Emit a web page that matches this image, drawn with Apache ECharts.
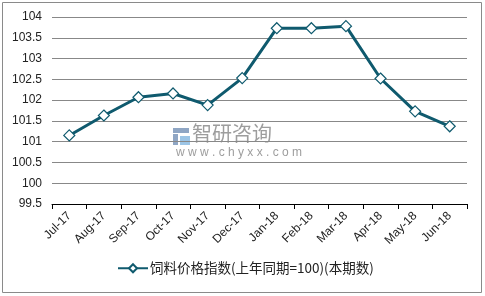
<!DOCTYPE html>
<html>
<head>
<meta charset="utf-8">
<script src="https://cdn.jsdelivr.net/npm/echarts@6/dist/echarts.min.js"></script>
<style>
  html, body { margin: 0; padding: 0; background: #fff; }
  #chart { width: 485px; height: 296px; }
</style>
</head>
<body>
<div id="chart"></div>
<script>
const months = ["Jul-17", "Aug-17", "Sep-17", "Oct-17", "Nov-17", "Dec-17",
  "Jan-18", "Feb-18", "Mar-18", "Apr-18", "May-18", "Jun-18"];
const feedIndex = [101.15, 101.63, 102.07, 102.16, 101.88, 102.53,
  103.73, 103.73, 103.78, 102.52, 101.73, 101.37];
const seriesName = "饲料价格指数(上年同期=100)(本期数)";

const chart = echarts.init(document.getElementById("chart"));

const option = {
  animation: false,
  textStyle: { fontFamily: "Liberation Sans, Arial, sans-serif" },
  grid: { left: 52, right: 18, top: 17, bottom: 92 },
  legend: {
    bottom: 16,
    left: 112,
    itemWidth: 30,
    itemHeight: 10,
    itemGap: 2,
    textStyle: { fontSize: 13.5, color: "#222", fontFamily: "Noto Sans CJK SC, sans-serif", padding: [0, 0, 0, -3] },
    data: [seriesName],
  },
  xAxis: {
    type: "category",
    data: months,
    boundaryGap: true,
    axisLine: { lineStyle: { color: "#000", width: 1 } },
    axisTick: { show: true, alignWithLabel: false, lineStyle: { color: "#000" } },
    axisLabel: { rotate: 45, fontSize: 12, color: "#222", interval: 0, margin: 10 },
  },
  yAxis: {
    type: "value",
    min: 99.5,
    max: 104,
    interval: 0.5,
    axisLine: { show: false },
    axisTick: { show: false },
    axisLabel: { fontSize: 12, color: "#222", margin: 10 },
    splitLine: { lineStyle: { color: "#888", width: 1 } },
  },
  graphic: [
    {
      type: "rect",
      shape: { x: 2.5, y: 2.5, width: 479, height: 290 },
      style: { fill: "none", stroke: "#8a8a8a", lineWidth: 1 },
      silent: true,
    },
    {
      type: "text",
      left: 192,
      top: 123,
      style: { text: "智研咨询", fontSize: 20, fill: "#8c8c8c", fontFamily: "Noto Sans CJK SC, sans-serif", opacity: 0.85 },
      silent: true,
    },
    {
      type: "text",
      left: 176,
      top: 147,
      style: { text: "w w w . c h y x x . c o m", fontSize: 12, fill: "#8c8c8c", opacity: 0.85 },
      silent: true,
    },
    {
      type: "group",
      left: 173,
      top: 128,
      silent: true,
      children: [
        { type: "rect", shape: { x: 0, y: 0, width: 16, height: 5 }, style: { fill: "#8fa6c4" } },
        { type: "rect", shape: { x: 0, y: 6, width: 5, height: 11 }, style: { fill: "#8fa6c4" } },
        { type: "rect", shape: { x: 7, y: 8, width: 10, height: 9 }, style: { fill: "#9cc5e6" } },
      ],
    },
  ],
  series: [
    {
      name: seriesName,
      type: "line",
      data: feedIndex,
      symbol: "diamond",
      symbolSize: 11,
      lineStyle: { color: "#0f5a6e", width: 3 },
      itemStyle: { color: "#fff", borderColor: "#0f5a6e", borderWidth: 1.2 },
      z: 3,
    },
  ],
};

chart.setOption(option);
</script>
</body>
</html>
